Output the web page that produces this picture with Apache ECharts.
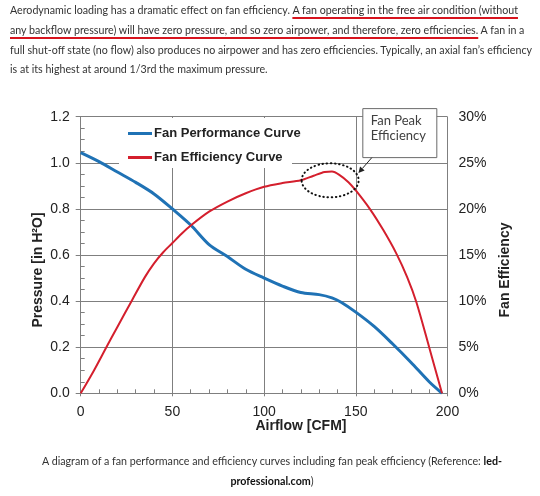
<!DOCTYPE html>
<html>
<head>
<meta charset="utf-8">
<script src="https://cdn.jsdelivr.net/npm/echarts@6/dist/echarts.min.js"></script>
<style>
html,body{margin:0;padding:0;background:#fff;width:540px;height:496px;overflow:hidden;}
#chart{position:absolute;left:0;top:0;width:540px;height:496px;}
.para{position:absolute;left:10px;top:0;font-family:Lato,'Open Sans',sans-serif;color:#333;white-space:nowrap;line-height:19.8px;z-index:5;}
.para div,.cap div{white-space:nowrap;}
.ln{display:inline-block;}
.ul{text-decoration:underline;text-decoration-color:#d7141e;text-decoration-thickness:2px;text-underline-offset:3px;text-decoration-skip-ink:none;}
.cap{position:absolute;left:0;top:450.5px;width:544px;text-align:center;font-family:Lato,'Open Sans',sans-serif;color:#333;line-height:20.5px;z-index:5;}
.cap b{color:#111;}
</style>
</head>
<body>
<div id="chart"></div>
<div class="para" id="para">
<div><span class="ln" id="p1">Aerodynamic loading has a dramatic effect on fan efficiency. <span class="ul">A fan operating in the free air condition (without</span></span></div>
<div><span class="ln"><span class="ul">any backflow pressure) will have zero pressure, and so zero airpower, and therefore, zero efficiencies.</span> A fan in a</span></div>
<div><span class="ln" id="p3">full shut-off state (no flow) also produces no airpower and has zero efficiencies. Typically, an axial fan’s efficiency</span></div>
<div><span class="ln">is at its highest at around 1/3rd the maximum pressure.</span></div>
</div>
<div class="cap" id="cap">
<div><span class="ln" id="c1">A diagram of a fan performance and efficiency curves including fan peak efficiency (Reference: <b>led-</b></span></div>
<div><span class="ln"><b>professional.com</b>)</span></div>
</div>
<script>
// ---- data ----
const perfAirflow = [0,10,20,30,40,50,60,70,80,90,100,110,120,130,137,142,150,160,170,180,190,197];
const perfPressure = [1.044,1.005,0.96,0.915,0.865,0.80,0.73,0.645,0.593,0.538,0.50,0.465,0.437,0.428,0.414,0.395,0.352,0.29,0.215,0.135,0.05,0.0];
const effAirflow = [0,7,14,20,28,35,40,45,50,55,60,70,80,90,100,110,120,127,133,137,141,146,150,158,165,172,178,183,190,197];
const effPercent = [0,2.4,5.0,7.2,10.1,12.6,14.1,15.3,16.3,17.3,18.2,19.7,20.8,21.7,22.4,22.8,23.1,23.6,24.0,24.05,23.7,22.9,22.0,19.9,17.7,15.2,12.6,9.9,5.0,0];
const xTicks = [0,50,100,150,200];
const pressureTicks = [0,0.2,0.4,0.6,0.8,1.0,1.2];
const effTicks = [0,5,10,15,20,25,30];
const seriesNames = ['Fan Performance Curve','Fan Efficiency Curve'];
const peakRing = [136, 23.1]; // centre of the dotted ring (airflow, efficiency %)
const calloutLines = ['Fan Peak','Efficiency'];

// fit text lines
function fit(id, target){
  const el = document.getElementById(id);
  const parent = el.closest('.para,.cap');
  parent.style.fontSize = '100px';
  const w = el.getBoundingClientRect().width;
  parent.style.fontSize = (100*target/w) + 'px';
}
fit('p3', 523);
fit('c1', 460.5);

const AX = '#7f7f7f';
const BLUE = '#1f72b5', RED = '#d41f2d';
const LBL = {fontSize:14, color:'#222', fontFamily:'Liberation Sans'};
const chart = echarts.init(document.getElementById('chart'), null, {renderer:'canvas'});
const grid = {left:80.7, right:92.5, top:116.7, bottom:102.7};
chart.setOption({
  animation:false,
  grid: grid,
  legend: {
    left:119, top:118, orient:'vertical', itemWidth:24, itemHeight:3, itemGap:9,
    padding:[8,8,3,9], backgroundColor:'transparent', icon:'rect',
    textStyle:{fontSize:13, fontWeight:'bold', color:'#222', fontFamily:'Liberation Sans', lineHeight:15, padding:[0,0,0,-3]},
    data: [
      {name:seriesNames[0], icon:'rect', itemStyle:{color:BLUE}},
      {name:seriesNames[1], icon:'rect', itemStyle:{color:RED}}
    ]
  },
  xAxis: [
    {type:'value', min:xTicks[0], max:xTicks[xTicks.length-1], interval:xTicks[1]-xTicks[0], position:'bottom',
     axisLine:{show:true, lineStyle:{color:AX, width:1}},
     axisTick:{show:true, length:3, lineStyle:{color:AX}},
     axisLabel:Object.assign({margin:12}, LBL),
     splitLine:{show:true, lineStyle:{color:AX, width:1}}},
    {type:'value', min:xTicks[0], max:xTicks[xTicks.length-1], interval:xTicks[1]-xTicks[0], position:'bottom',
     axisLine:{show:false}, axisTick:{show:false, inside:true},
     minorTick:{show:true, splitNumber:5, length:4, lineStyle:{color:AX}},
     axisLabel:{show:false}, splitLine:{show:false}}
  ],
  yAxis: [
    {type:'value', min:pressureTicks[0], max:pressureTicks[pressureTicks.length-1], interval:0.2, position:'left',
     axisLine:{show:true, lineStyle:{color:AX, width:1}},
     axisTick:{show:true, length:5, lineStyle:{color:AX}},
     axisLabel:Object.assign({margin:11, formatter:v=>v.toFixed(1)}, LBL),
     splitLine:{show:true, lineStyle:{color:AX, width:1}}},
    {type:'value', min:effTicks[0], max:effTicks[effTicks.length-1], interval:5, position:'right',
     axisLine:{show:true, lineStyle:{color:AX, width:1}},
     axisTick:{show:true, length:6, lineStyle:{color:AX}},
     axisLabel:Object.assign({margin:11, formatter:'{value}%'}, LBL),
     splitLine:{show:false}},
    {type:'value', min:pressureTicks[0], max:pressureTicks[pressureTicks.length-1], interval:0.2, position:'left',
     axisLine:{show:false}, axisTick:{show:false, inside:true},
     minorTick:{show:true, splitNumber:4, length:4, lineStyle:{color:AX}},
     axisLabel:{show:false}, splitLine:{show:false}}
  ],
  series: [
    {name:seriesNames[0], type:'line', xAxisIndex:0, yAxisIndex:0, symbol:'none', smooth:0.3,
     lineStyle:{color:BLUE, width:3}, itemStyle:{color:BLUE}, z:3,
     data: perfAirflow.map((x,i)=>[x, perfPressure[i]])},
    {name:seriesNames[1], type:'line', xAxisIndex:0, yAxisIndex:1, symbol:'none', smooth:0.3,
     lineStyle:{color:RED, width:2}, itemStyle:{color:RED}, z:4,
     data: effAirflow.map((x,i)=>[x, effPercent[i]])}
  ]
});

const c = chart.convertToPixel({xAxisIndex:0, yAxisIndex:1}, peakRing);
const boxL = c[0]+32.7, boxT = c[1]-71.7, boxW = 74, boxH = 49;
const arrowFrom = [c[0]+41.7, c[1]-22.7], arrowTo = [c[0]+28.3, c[1]-7.3];
const ang = Math.atan2(arrowTo[1]-arrowFrom[1], arrowTo[0]-arrowFrom[0]);
const hl = 6, hw = 3;
const bx = arrowTo[0]-hl*Math.cos(ang), by = arrowTo[1]-hl*Math.sin(ang);
const head = [arrowTo, [bx - hw*Math.sin(ang), by + hw*Math.cos(ang)], [bx + hw*Math.sin(ang), by - hw*Math.cos(ang)]];

chart.setOption({
  graphic: [
    {type:'rect', z:1, shape:{x:119, y:118, width:173, height:50}, style:{fill:'#fff'}},
    {type:'ellipse', z:10, shape:{cx:c[0], cy:c[1], rx:28.5, ry:17}, style:{fill:null, stroke:'#111', lineWidth:2, lineDash:[0.5,3.6], lineCap:'round'}},
    {type:'rect', z:10, shape:{x:boxL, y:boxT, width:boxW, height:boxH}, style:{fill:'#fff', stroke:'#6a6a6a', lineWidth:1}},
    {type:'text', z:11, x:boxL+8, y:boxT+12, style:{text:calloutLines[0], font:'13px Lato', fill:'#404040', verticalAlign:'middle'}},
    {type:'text', z:11, x:boxL+8, y:boxT+27.5, style:{text:calloutLines[1], font:'13px Lato', fill:'#404040', verticalAlign:'middle'}},
    {type:'line', z:10, shape:{x1:arrowFrom[0], y1:arrowFrom[1], x2:bx, y2:by}, style:{stroke:'#222', lineWidth:1}},
    {type:'polygon', z:10, shape:{points:head}, style:{fill:'#222'}},
    {type:'text', z:11, x:38, y:270, rotation:Math.PI/2, style:{text:'Pressure [in H²O]', font:'bold 14px Liberation Sans', fill:'#222', align:'center', verticalAlign:'middle'}},
    {type:'text', z:11, x:505, y:270, rotation:Math.PI/2, style:{text:'Fan Efficiency', font:'bold 14px Liberation Sans', fill:'#222', align:'center', verticalAlign:'middle'}},
    {type:'text', z:11, x:301, y:426, style:{text:'Airflow [CFM]', font:'bold 14px Liberation Sans', fill:'#222', align:'center', verticalAlign:'middle'}}
  ]
});
</script>
</body>
</html>
